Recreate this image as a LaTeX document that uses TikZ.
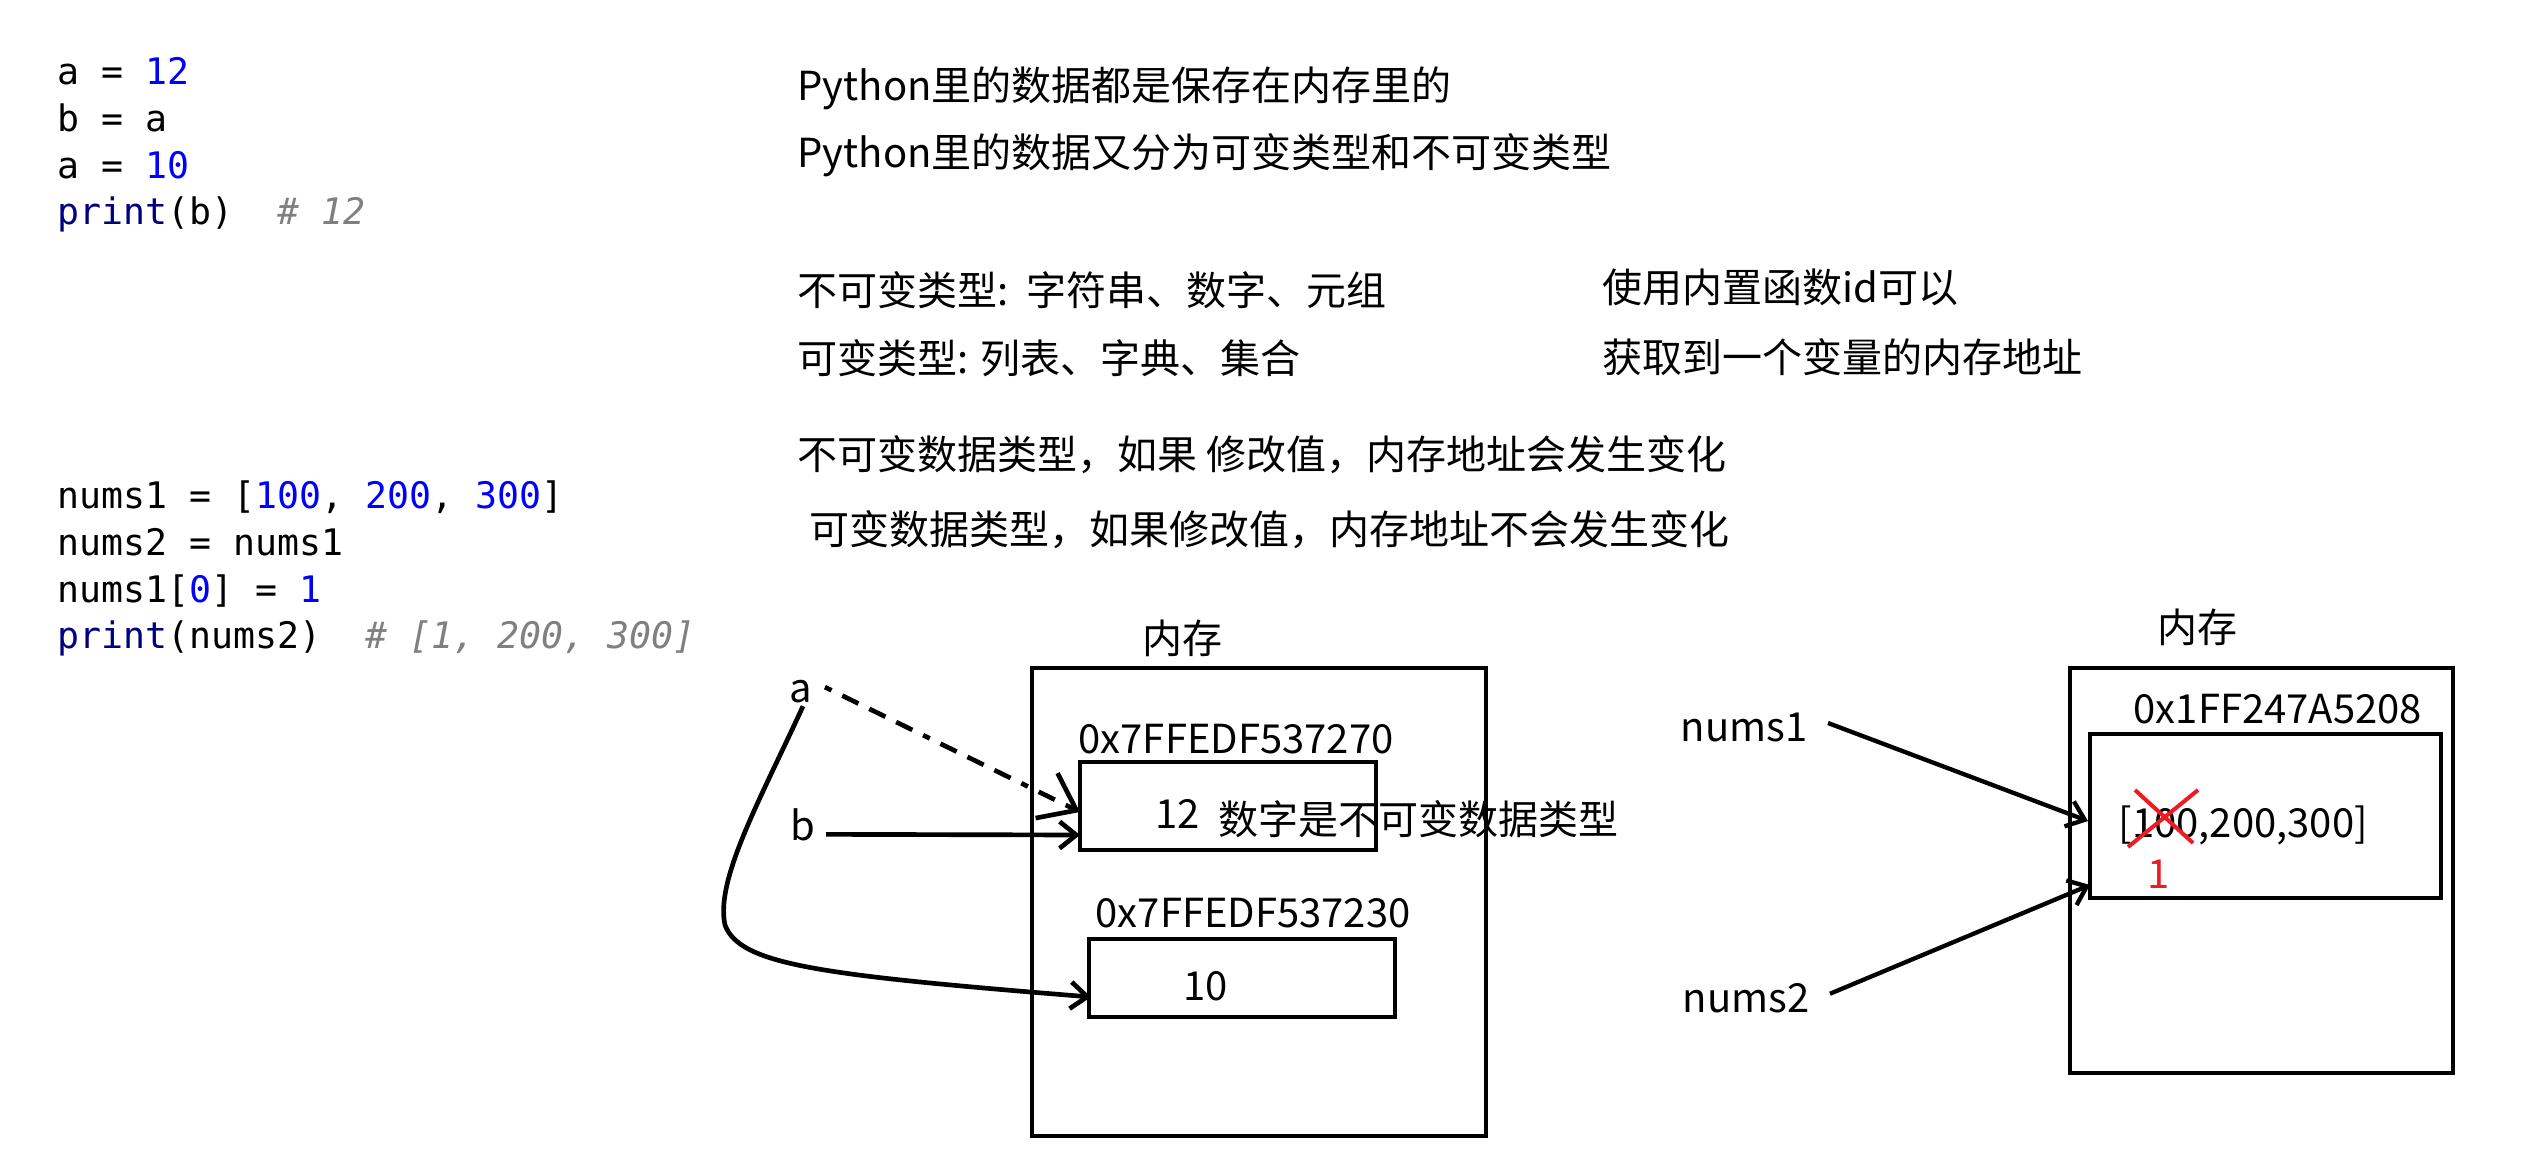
\documentclass[tikz,border=0pt]{standalone}
\usepackage{fontspec}
\setmonofont{DejaVu Sans Mono}
\newfontfamily\cjk{Noto Sans CJK SC}
\usetikzlibrary{arrows.meta,fit}

\definecolor{numblue}{RGB}{0,0,255}
\definecolor{fnnavy}{RGB}{0,0,128}
\definecolor{cmtgray}{RGB}{128,128,128}
\definecolor{markred}{RGB}{237,28,36}

\tikzset{
  code/.style={font=\ttfamily\fontsize{10.96}{13}\selectfont, anchor=base west, inner sep=0pt},
  txt/.style={font=\cjk\fontsize{12}{14}\selectfont, anchor=base west, inner sep=0pt},
  var/.style={font=\cjk\fontsize{12}{14}\selectfont, anchor=base, inner sep=0pt},
  mem/.style={draw, line width=1.4pt, inner sep=0pt, outer sep=0pt},
  ptr/.style={line width=1.4pt, -{Straight Barb[length=5pt,width=8pt]}},
  oldptr/.style={line width=1.4pt,
    dash pattern=on 2.2pt off 3.6pt on 5.4pt off 3.6pt on 5.4pt off 3.6pt on 5.4pt off 3.6pt,
    -{Straight Barb[length=10pt,width=15pt]}},
}

\begin{document}
\begin{tikzpicture}[x=0.3pt,y=-0.3pt]

\path[use as bounding box, fill=white] (0,0) rectangle (2531,1171);

\node[code] (ca1) at (57,85) {a = \textcolor{numblue}{12}};
\node[code] (ca2) at (57,132) {b = a};
\node[code] (ca3) at (57,178) {a = \textcolor{numblue}{10}};
\node[code] (ca4) at (57,225) {\textcolor{fnnavy}{print}(b)~~\textcolor{cmtgray}{\itshape\#~12}};

\node[code] (cb1) at (57,508) {nums1 = [\textcolor{numblue}{100}, \textcolor{numblue}{200}, \textcolor{numblue}{300}]};
\node[code] (cb2) at (57,555) {nums2 = nums1};
\node[code] (cb3) at (57,602) {nums1[\textcolor{numblue}{0}] = \textcolor{numblue}{1}};
\node[code] (cb4) at (57,648) {\textcolor{fnnavy}{print}(nums2)~~\textcolor{cmtgray}{\itshape\#~[1, 200, 300]}};

\node[txt] (t1) at (797,101) {Python里的数据都是保存在内存里的};
\node[txt] (t2) at (797,168) {Python里的数据又分为可变类型和不可变类型};
\node[txt] (t3) at (797,305) {不可变类型:~~字符串、数字、元组};
\node[txt] (t4) at (797,373) {可变类型: 列表、字典、集合};
\node[txt] (t5) at (1602,303) {使用内置函数id可以};
\node[txt] (t6) at (1602,372) {获取到一个变量的内存地址};
\node[txt] (t7) at (797,469) {不可变数据类型，如果 修改值，内存地址会发生变化};
\node[txt] (t8) at (809,544) {可变数据类型，如果修改值，内存地址不会发生变化};

% left memory
\node[txt] (memlabel1) at (1142,653) {内存};
\node[mem, fit={(1032,668) (1486,1136)}] (mem1) {};
\node[txt] (addr1) at (1078,753) {0x7FFEDF537270};
\node[mem, fit={(1080,762) (1376,850)}] (box12) {};
\node[txt] (v12) at (1155,828) {12};
\node[txt] (addr2) at (1095,927) {0x7FFEDF537230};
\node[mem, fit={(1089,939) (1395,1017)}] (box10) {};
\node[txt] (v10) at (1183,1000) {10};
\node[txt] (note) at (1218,834) {数字是不可变数据类型};

\node[var] (a) at (801,702) {a};
\node[var] (b) at (803,840) {b};

\draw[oldptr] ([shift={(12,-4)}]a.east) -- ([shift={(0,6)}]box12.west);
\draw[ptr] ([shift={(10,10)}]b.east) -- ([shift={(0,29)}]box12.west);
\draw[ptr] ([shift={(2,3)}]a.south) .. controls (760,800) and (715,880) .. (725,925)
  .. controls (740,965) and (820,975) .. ([shift={(2,19)}]box10.west);

% right memory
\node[txt] (memlabel2) at (2157,642) {内存};
\node[mem, fit={(2070,668) (2453,1073)}] (mem2) {};
\node[txt] (addr3) at (2133,723) {0x1FF247A5208};
\node[mem, fit={(2090,734) (2441,898)}] (list) {};
\node[txt] (vlist) at (2118,837) {[100,200,300]};
\draw[markred, line width=1.2pt] (2135,790) -- (2193,843);
\draw[markred, line width=1.2pt] (2198,790) -- (2128,847);
\node[txt, text=markred] (one) at (2147,888) {1};

\node[var] (nums1) at (1744,741) {nums1};
\node[var] (nums2) at (1746,1012) {nums2};

\draw[ptr, line width=1.3pt] ([shift={(20,-4)}]nums1.east) -- ([shift={(-2,5)}]list.west);
\draw[ptr, line width=1.3pt] ([shift={(20,-4)}]nums2.east) -- ([shift={(0,69)}]list.west);

\end{tikzpicture}
\end{document}
